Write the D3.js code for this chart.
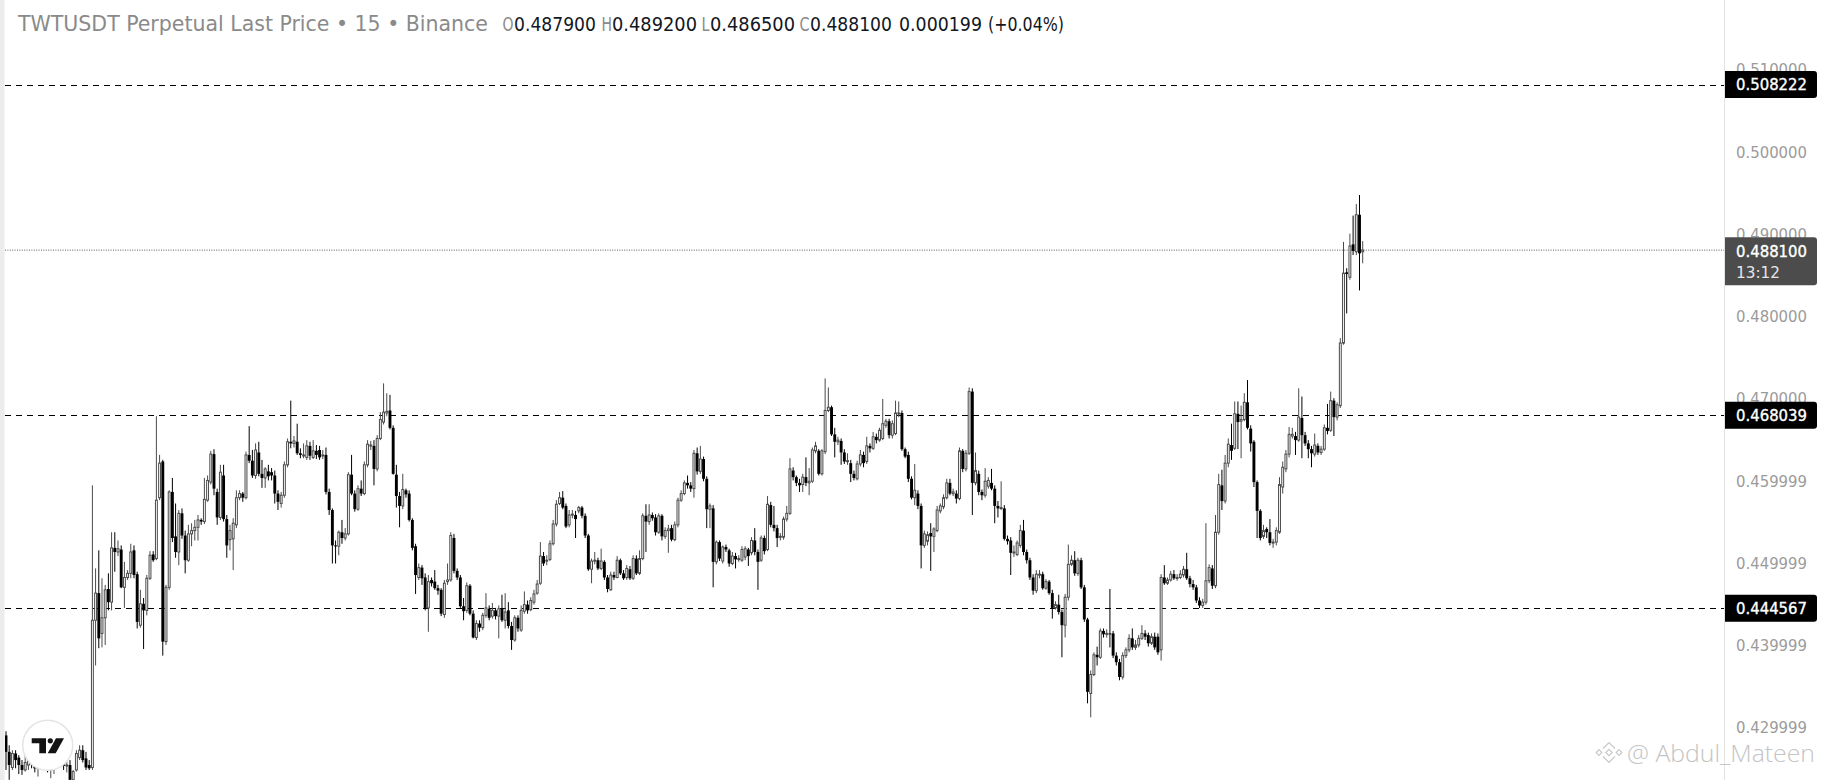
<!DOCTYPE html>
<html><head><meta charset="utf-8">
<script src="https://cdn.jsdelivr.net/npm/d3@7"></script>
<style>html,body{margin:0;padding:0;background:#fff;overflow:hidden}</style>
</head><body>
<script>
const opens = [0.4291,0.4271,0.4252,0.4269,0.4264,0.4255,0.4249,0.4255,0.4261,0.4256,
0.4251,0.4258,0.4263,0.4257,0.4249,0.4254,0.4261,0.4265,0.4260,0.4254,
0.4255,0.4237,0.4249,0.4264,0.4273,0.4263,0.4255,0.4252,0.4431,0.4464,
0.4415,0.4434,0.4469,0.4453,0.4519,0.4514,0.4517,0.4471,0.4483,0.4488,
0.4516,0.4487,0.4425,0.4451,0.4443,0.4482,0.4511,0.4506,0.4580,0.4624,
0.4405,0.4471,0.4587,0.4533,0.4514,0.4561,0.4534,0.4504,0.4536,0.4540,
0.4544,0.4553,0.4551,0.4577,0.4599,0.4633,0.4587,0.4556,0.4607,0.4554,
0.4529,0.4530,0.4547,0.4580,0.4585,0.4580,0.4632,0.4625,0.4607,0.4635,
0.4609,0.4604,0.4612,0.4611,0.4607,0.4585,0.4573,0.4583,0.4620,0.4648,
0.4646,0.4648,0.4634,0.4631,0.4629,0.4643,0.4629,0.4637,0.4638,0.4631,
0.4632,0.4587,0.4565,0.4522,0.4521,0.4538,0.4531,0.4536,0.4608,0.4585,
0.4566,0.4591,0.4585,0.4620,0.4643,0.4643,0.4615,0.4652,0.4672,0.4683,
0.4686,0.4665,0.4608,0.4582,0.4570,0.4589,0.4585,0.4553,0.4521,0.4483,
0.4495,0.4483,0.4446,0.4480,0.4478,0.4470,0.4468,0.4438,0.4478,0.4480,
0.4531,0.4491,0.4483,0.4448,0.4443,0.4473,0.4439,0.4410,0.4427,0.4422,
0.4437,0.4445,0.4436,0.4443,0.4436,0.4445,0.4431,0.4443,0.4424,0.4407,
0.4434,0.4419,0.4442,0.4450,0.4444,0.4453,0.4464,0.4476,0.4509,0.4503,
0.4505,0.4524,0.4548,0.4573,0.4580,0.4570,0.4547,0.4559,0.4559,0.4564,
0.4568,0.4558,0.4534,0.4493,0.4503,0.4504,0.4494,0.4502,0.4483,0.4468,
0.4486,0.4483,0.4504,0.4488,0.4483,0.4493,0.4482,0.4506,0.4488,0.4506,
0.4558,0.4551,0.4559,0.4556,0.4538,0.4558,0.4533,0.4540,0.4543,0.4529,
0.4547,0.4577,0.4585,0.4598,0.4595,0.4591,0.4634,0.4612,0.4627,0.4603,
0.4566,0.4567,0.4502,0.4526,0.4503,0.4520,0.4516,0.4500,0.4509,0.4505,
0.4504,0.4508,0.4517,0.4513,0.4528,0.4514,0.4504,0.4531,0.4517,0.4571,
0.4547,0.4543,0.4532,0.4532,0.4554,0.4561,0.4613,0.4605,0.4598,0.4596,
0.4605,0.4598,0.4600,0.4637,0.4637,0.4609,0.4636,0.4686,0.4690,0.4657,
0.4648,0.4649,0.4635,0.4624,0.4622,0.4609,0.4603,0.4621,0.4632,0.4624,
0.4643,0.4640,0.4654,0.4650,0.4652,0.4668,0.4673,0.4656,0.4658,0.4682,
0.4683,0.4639,0.4632,0.4603,0.4580,0.4585,0.4570,0.4522,0.4527,0.4537,
0.4533,0.4540,0.4564,0.4569,0.4580,0.4598,0.4585,0.4585,0.4579,0.4637,
0.4615,0.4634,0.4709,0.4598,0.4609,0.4587,0.4583,0.4594,0.4598,0.4591,
0.4570,0.4567,0.4567,0.4530,0.4528,0.4513,0.4511,0.4522,0.4540,0.4514,
0.4504,0.4483,0.4467,0.4486,0.4487,0.4470,0.4478,0.4464,0.4446,0.4450,
0.4441,0.4425,0.4459,0.4499,0.4504,0.4488,0.4504,0.4471,0.4432,0.4342,
0.4365,0.4389,0.4386,0.4418,0.4414,0.4415,0.4415,0.4388,0.4380,0.4362,
0.4388,0.4395,0.4409,0.4398,0.4401,0.4409,0.4415,0.4413,0.4403,0.4411,
0.4411,0.4395,0.4483,0.4476,0.4480,0.4487,0.4482,0.4483,0.4486,0.4493,
0.4482,0.4475,0.4471,0.4455,0.4449,0.4453,0.4479,0.4494,0.4473,0.4538,
0.4595,0.4576,0.4622,0.4644,0.4640,0.4682,0.4673,0.4675,0.4696,0.4664,
0.4648,0.4599,0.4564,0.4533,0.4542,0.4538,0.4525,0.4526,0.4538,0.4593,
0.4615,0.4633,0.4655,0.4655,0.4650,0.4677,0.4656,0.4646,0.4639,0.4633,
0.4643,0.4635,0.4639,0.4665,0.4662,0.4698,0.4678,0.4692,0.4768,0.4854,
0.4848,0.4888,0.4879,0.4924,0.4879];
const highs = [0.4296,0.4279,0.4273,0.4273,0.4267,0.4261,0.4267,0.4264,0.4271,0.4263,
0.4261,0.4268,0.4271,0.4266,0.4258,0.4264,0.4271,0.4273,0.4267,0.4264,
0.4261,0.4249,0.4273,0.4279,0.4279,0.4271,0.4261,0.4595,0.4494,0.4516,
0.4482,0.4474,0.4488,0.4538,0.4538,0.4528,0.4522,0.4502,0.4492,0.4524,
0.4522,0.4490,0.4468,0.4458,0.4486,0.4515,0.4515,0.4679,0.4632,0.4626,
0.4474,0.4589,0.4604,0.4573,0.4565,0.4567,0.4540,0.4547,0.4549,0.4553,
0.4559,0.4555,0.4604,0.4607,0.4637,0.4639,0.4591,0.4620,0.4620,0.4559,
0.4547,0.4555,0.4589,0.4589,0.4587,0.4636,0.4667,0.4638,0.4646,0.4648,
0.4626,0.4617,0.4620,0.4616,0.4613,0.4589,0.4587,0.4624,0.4652,0.4698,
0.4655,0.4670,0.4640,0.4646,0.4650,0.4648,0.4650,0.4644,0.4643,0.4638,
0.4641,0.4591,0.4567,0.4528,0.4540,0.4553,0.4543,0.4611,0.4632,0.4589,
0.4595,0.4601,0.4624,0.4650,0.4649,0.4650,0.4656,0.4684,0.4719,0.4707,
0.4705,0.4668,0.4620,0.4587,0.4609,0.4591,0.4589,0.4555,0.4524,0.4500,
0.4498,0.4488,0.4486,0.4483,0.4492,0.4474,0.4470,0.4480,0.4500,0.4538,
0.4536,0.4494,0.4486,0.4458,0.4477,0.4475,0.4443,0.4431,0.4431,0.4440,
0.4464,0.4449,0.4452,0.4446,0.4449,0.4462,0.4464,0.4453,0.4429,0.4437,
0.4437,0.4449,0.4466,0.4455,0.4459,0.4468,0.4480,0.4526,0.4514,0.4510,
0.4528,0.4553,0.4577,0.4587,0.4588,0.4573,0.4565,0.4565,0.4564,0.4570,
0.4570,0.4561,0.4536,0.4506,0.4514,0.4507,0.4518,0.4504,0.4486,0.4490,
0.4490,0.4509,0.4506,0.4492,0.4498,0.4497,0.4510,0.4510,0.4516,0.4561,
0.4572,0.4572,0.4562,0.4560,0.4561,0.4560,0.4544,0.4547,0.4547,0.4551,
0.4580,0.4589,0.4601,0.4607,0.4599,0.4638,0.4641,0.4643,0.4630,0.4606,
0.4573,0.4571,0.4528,0.4528,0.4522,0.4523,0.4518,0.4514,0.4513,0.4510,
0.4521,0.4521,0.4519,0.4532,0.4543,0.4517,0.4534,0.4534,0.4582,0.4575,
0.4570,0.4547,0.4537,0.4557,0.4570,0.4628,0.4617,0.4607,0.4603,0.4609,
0.4629,0.4616,0.4641,0.4648,0.4639,0.4639,0.4725,0.4714,0.4692,0.4665,
0.4654,0.4652,0.4639,0.4634,0.4626,0.4613,0.4625,0.4638,0.4636,0.4654,
0.4646,0.4660,0.4658,0.4665,0.4700,0.4676,0.4676,0.4674,0.4698,0.4697,
0.4686,0.4641,0.4636,0.4606,0.4621,0.4589,0.4573,0.4540,0.4539,0.4549,
0.4544,0.4570,0.4573,0.4584,0.4603,0.4603,0.4591,0.4589,0.4641,0.4639,
0.4638,0.4714,0.4713,0.4635,0.4613,0.4590,0.4616,0.4605,0.4615,0.4595,
0.4576,0.4600,0.4571,0.4534,0.4532,0.4522,0.4528,0.4547,0.4553,0.4517,
0.4507,0.4487,0.4492,0.4492,0.4490,0.4481,0.4480,0.4468,0.4454,0.4462,
0.4444,0.4463,0.4523,0.4510,0.4515,0.4507,0.4507,0.4474,0.4434,0.4370,
0.4392,0.4399,0.4421,0.4421,0.4420,0.4469,0.4418,0.4392,0.4384,0.4392,
0.4398,0.4414,0.4421,0.4407,0.4413,0.4425,0.4419,0.4416,0.4415,0.4416,
0.4415,0.4487,0.4498,0.4483,0.4491,0.4492,0.4487,0.4492,0.4497,0.4513,
0.4485,0.4480,0.4474,0.4459,0.4457,0.4549,0.4499,0.4498,0.4559,0.4609,
0.4614,0.4632,0.4652,0.4670,0.4697,0.4697,0.4692,0.4707,0.4723,0.4668,
0.4650,0.4601,0.4566,0.4547,0.4544,0.4554,0.4530,0.4544,0.4605,0.4624,
0.4638,0.4666,0.4665,0.4660,0.4713,0.4703,0.4660,0.4650,0.4643,0.4658,
0.4646,0.4643,0.4669,0.4694,0.4709,0.4701,0.4696,0.4774,0.4891,0.4859,
0.4901,0.4923,0.4937,0.4948,0.4892];
const lows = [0.4249,0.4237,0.4249,0.4251,0.4244,0.4243,0.4247,0.4249,0.4251,0.4246,
0.4241,0.4249,0.4254,0.4246,0.4239,0.4244,0.4251,0.4256,0.4249,0.4246,
0.4231,0.4231,0.4247,0.4261,0.4258,0.4249,0.4249,0.4249,0.4376,0.4397,
0.4398,0.4401,0.4443,0.4443,0.4490,0.4509,0.4470,0.4446,0.4480,0.4482,
0.4482,0.4421,0.4422,0.4396,0.4437,0.4480,0.4502,0.4504,0.4577,0.4388,
0.4401,0.4468,0.4526,0.4507,0.4498,0.4530,0.4488,0.4502,0.4521,0.4528,
0.4528,0.4547,0.4548,0.4575,0.4596,0.4583,0.4547,0.4553,0.4551,0.4507,
0.4516,0.4492,0.4543,0.4577,0.4575,0.4578,0.4622,0.4604,0.4603,0.4606,
0.4592,0.4592,0.4601,0.4601,0.4573,0.4565,0.4568,0.4580,0.4617,0.4640,
0.4641,0.4632,0.4628,0.4628,0.4626,0.4626,0.4627,0.4627,0.4626,0.4627,
0.4584,0.4559,0.4500,0.4500,0.4510,0.4524,0.4528,0.4534,0.4583,0.4563,
0.4564,0.4582,0.4583,0.4617,0.4638,0.4595,0.4612,0.4650,0.4669,0.4679,
0.4663,0.4608,0.4568,0.4544,0.4566,0.4580,0.4551,0.4516,0.4463,0.4480,
0.4474,0.4443,0.4417,0.4472,0.4468,0.4462,0.4436,0.4434,0.4474,0.4478,
0.4488,0.4480,0.4446,0.4431,0.4440,0.4437,0.4409,0.4407,0.4417,0.4419,
0.4434,0.4431,0.4433,0.4432,0.4409,0.4429,0.4421,0.4421,0.4395,0.4405,
0.4417,0.4417,0.4439,0.4439,0.4442,0.4450,0.4462,0.4474,0.4497,0.4498,
0.4503,0.4522,0.4545,0.4571,0.4566,0.4543,0.4544,0.4555,0.4531,0.4561,
0.4555,0.4531,0.4491,0.4476,0.4499,0.4492,0.4492,0.4480,0.4465,0.4467,
0.4480,0.4482,0.4486,0.4480,0.4480,0.4480,0.4480,0.4486,0.4486,0.4504,
0.4514,0.4547,0.4552,0.4534,0.4536,0.4528,0.4530,0.4513,0.4527,0.4527,
0.4544,0.4575,0.4583,0.4591,0.4587,0.4580,0.4608,0.4609,0.4600,0.4543,
0.4543,0.4471,0.4499,0.4503,0.4500,0.4514,0.4496,0.4498,0.4494,0.4502,
0.4502,0.4504,0.4497,0.4510,0.4510,0.4468,0.4502,0.4511,0.4515,0.4544,
0.4539,0.4520,0.4528,0.4529,0.4551,0.4559,0.4601,0.4594,0.4587,0.4587,
0.4594,0.4583,0.4598,0.4634,0.4607,0.4607,0.4633,0.4684,0.4655,0.4629,
0.4644,0.4620,0.4621,0.4620,0.4599,0.4601,0.4601,0.4618,0.4617,0.4621,
0.4635,0.4638,0.4646,0.4648,0.4650,0.4665,0.4652,0.4652,0.4656,0.4678,
0.4637,0.4628,0.4599,0.4578,0.4571,0.4566,0.4494,0.4519,0.4522,0.4491,
0.4514,0.4538,0.4561,0.4566,0.4578,0.4583,0.4582,0.4573,0.4577,0.4611,
0.4612,0.4632,0.4559,0.4595,0.4583,0.4577,0.4580,0.4591,0.4589,0.4549,
0.4556,0.4565,0.4528,0.4523,0.4486,0.4508,0.4509,0.4519,0.4510,0.4500,
0.4480,0.4462,0.4464,0.4482,0.4468,0.4468,0.4462,0.4433,0.4444,0.4438,
0.4386,0.4410,0.4455,0.4497,0.4485,0.4485,0.4469,0.4429,0.4330,0.4313,
0.4363,0.4376,0.4384,0.4410,0.4410,0.4398,0.4385,0.4376,0.4358,0.4359,
0.4385,0.4392,0.4395,0.4395,0.4398,0.4407,0.4407,0.4399,0.4401,0.4395,
0.4389,0.4382,0.4474,0.4474,0.4478,0.4480,0.4479,0.4481,0.4483,0.4480,
0.4471,0.4468,0.4452,0.4446,0.4446,0.4450,0.4476,0.4469,0.4470,0.4535,
0.4565,0.4573,0.4617,0.4626,0.4638,0.4639,0.4628,0.4673,0.4663,0.4636,
0.4593,0.4531,0.4528,0.4530,0.4531,0.4522,0.4519,0.4522,0.4536,0.4585,
0.4611,0.4629,0.4652,0.4632,0.4648,0.4628,0.4643,0.4628,0.4617,0.4630,
0.4632,0.4632,0.4637,0.4657,0.4660,0.4655,0.4674,0.4689,0.4766,0.4804,
0.4845,0.4875,0.4875,0.4832,0.4865];
const closes = [0.4271,0.4255,0.4269,0.4261,0.4255,0.4249,0.4258,0.4261,0.4256,0.4251,
0.4258,0.4263,0.4257,0.4249,0.4254,0.4261,0.4265,0.4260,0.4254,0.4255,
0.4237,0.4247,0.4269,0.4273,0.4261,0.4252,0.4251,0.4431,0.4464,0.4409,
0.4434,0.4468,0.4453,0.4519,0.4514,0.4518,0.4471,0.4483,0.4488,0.4514,
0.4486,0.4429,0.4451,0.4443,0.4482,0.4510,0.4504,0.4577,0.4622,0.4405,
0.4471,0.4587,0.4531,0.4514,0.4561,0.4534,0.4504,0.4536,0.4540,0.4544,
0.4553,0.4551,0.4578,0.4601,0.4633,0.4591,0.4556,0.4611,0.4554,0.4522,
0.4540,0.4549,0.4580,0.4585,0.4580,0.4632,0.4625,0.4607,0.4638,0.4609,
0.4604,0.4615,0.4606,0.4607,0.4585,0.4575,0.4583,0.4620,0.4648,0.4646,
0.4649,0.4634,0.4632,0.4632,0.4643,0.4631,0.4637,0.4632,0.4629,0.4632,
0.4587,0.4565,0.4522,0.4521,0.4538,0.4531,0.4536,0.4608,0.4585,0.4566,
0.4591,0.4585,0.4620,0.4645,0.4644,0.4615,0.4652,0.4675,0.4684,0.4685,
0.4665,0.4609,0.4582,0.4570,0.4590,0.4584,0.4553,0.4519,0.4486,0.4495,
0.4482,0.4446,0.4478,0.4476,0.4470,0.4467,0.4439,0.4476,0.4480,0.4534,
0.4491,0.4483,0.4448,0.4442,0.4473,0.4439,0.4410,0.4427,0.4422,0.4437,
0.4446,0.4434,0.4443,0.4436,0.4445,0.4431,0.4441,0.4424,0.4407,0.4434,
0.4421,0.4443,0.4450,0.4443,0.4455,0.4463,0.4475,0.4509,0.4500,0.4504,
0.4524,0.4548,0.4572,0.4580,0.4568,0.4545,0.4559,0.4560,0.4554,0.4568,
0.4558,0.4534,0.4493,0.4503,0.4504,0.4494,0.4503,0.4483,0.4469,0.4486,
0.4483,0.4504,0.4488,0.4482,0.4494,0.4482,0.4506,0.4488,0.4506,0.4558,
0.4551,0.4559,0.4555,0.4538,0.4558,0.4533,0.4540,0.4542,0.4529,0.4547,
0.4577,0.4585,0.4598,0.4595,0.4591,0.4634,0.4612,0.4627,0.4603,0.4566,
0.4570,0.4502,0.4526,0.4506,0.4520,0.4517,0.4500,0.4509,0.4505,0.4506,
0.4517,0.4518,0.4509,0.4528,0.4514,0.4502,0.4531,0.4515,0.4572,0.4547,
0.4543,0.4531,0.4533,0.4554,0.4561,0.4615,0.4605,0.4598,0.4595,0.4605,
0.4598,0.4600,0.4638,0.4643,0.4609,0.4637,0.4686,0.4690,0.4657,0.4648,
0.4650,0.4635,0.4624,0.4625,0.4609,0.4604,0.4621,0.4632,0.4622,0.4643,
0.4640,0.4654,0.4650,0.4662,0.4670,0.4673,0.4656,0.4670,0.4683,0.4683,
0.4639,0.4630,0.4603,0.4580,0.4589,0.4570,0.4522,0.4536,0.4535,0.4533,
0.4542,0.4565,0.4570,0.4580,0.4598,0.4585,0.4587,0.4579,0.4637,0.4615,
0.4634,0.4709,0.4598,0.4613,0.4587,0.4583,0.4600,0.4601,0.4591,0.4570,
0.4567,0.4568,0.4530,0.4527,0.4513,0.4514,0.4525,0.4540,0.4514,0.4504,
0.4483,0.4467,0.4487,0.4487,0.4470,0.4478,0.4464,0.4446,0.4450,0.4441,
0.4425,0.4459,0.4499,0.4504,0.4488,0.4504,0.4471,0.4432,0.4344,0.4365,
0.4389,0.4386,0.4418,0.4414,0.4415,0.4414,0.4388,0.4380,0.4362,0.4388,
0.4395,0.4409,0.4398,0.4401,0.4409,0.4415,0.4411,0.4403,0.4411,0.4398,
0.4392,0.4483,0.4476,0.4480,0.4487,0.4482,0.4483,0.4487,0.4493,0.4482,
0.4475,0.4471,0.4455,0.4449,0.4453,0.4479,0.4495,0.4473,0.4538,0.4596,
0.4576,0.4622,0.4645,0.4637,0.4682,0.4672,0.4675,0.4696,0.4665,0.4646,
0.4599,0.4564,0.4531,0.4540,0.4538,0.4525,0.4526,0.4540,0.4596,0.4617,
0.4633,0.4657,0.4657,0.4650,0.4678,0.4656,0.4646,0.4639,0.4634,0.4644,
0.4635,0.4639,0.4665,0.4661,0.4698,0.4678,0.4693,0.4768,0.4853,0.4852,
0.4886,0.4880,0.4924,0.4877,0.4881];

const tickValues = [0.51, 0.50, 0.49, 0.48, 0.47, 0.46, 0.45, 0.44, 0.43];
const tickLabels = ["0.510000","0.500000","0.490000","0.480000","0.470000","0.459999","0.449999","0.439999","0.429999"];
const levelValues = [0.508222, 0.468039, 0.444567];
const levelLabels = ["0.508222", "0.468039", "0.444567"];
const lastPrice = 0.4881;
const lastPriceLabel = "0.488100";
const countdownLabel = "13:12";
const titleText = "TWTUSDT Perpetual Last Price \u2022 15 \u2022 Binance";
const headerKeys = ["O", "H", "L", "C"];
const headerValues = ["0.487900", "0.489200", "0.486500", "0.488100"];
const headerChange = ["0.000199", "(+0.04%)"];
const watermarkText = "@ Abdul_Mateen";

const W = 1823, H = 780;
const plotLeft = 5, plotRight = 1724.5;
const svg = d3.select("body").append("svg").attr("width", W).attr("height", H)
  .style("display", "block").style("background", "#fff");

const y = d3.scaleLinear().domain([0.51, 0.43]).range([70, 728]);
const n = closes.length;
const x = d3.scaleLinear().domain([0, n - 1]).range([6, 1362.7]);

svg.append("defs").append("clipPath").attr("id", "plotclip")
  .append("rect").attr("x", plotLeft).attr("y", 0).attr("width", plotRight - plotLeft).attr("height", H);

const plot = svg.append("g").attr("clip-path", "url(#plotclip)");

// current price dotted line
plot.append("line").attr("x1", plotLeft).attr("x2", plotRight)
  .attr("y1", y(lastPrice)).attr("y2", y(lastPrice))
  .attr("stroke", "#5a5a5a").attr("stroke-width", 1).attr("stroke-dasharray", "1,1.4");

// level dashed lines
plot.selectAll("line.level").data(levelValues).enter().append("line").attr("class", "level")
  .attr("x1", plotLeft).attr("x2", plotRight)
  .attr("y1", d => Math.round(y(d)) + 0.5).attr("y2", d => Math.round(y(d)) + 0.5)
  .attr("stroke", "#000").attr("stroke-width", 1.1).attr("stroke-dasharray", "6,5");

// candles
const data = closes.map((c, i) => ({i, o: opens[i], h: highs[i], l: lows[i], c}));
const upCol = "#4a4a4a", dnCol = "#000";
const cg = plot.append("g");
cg.selectAll("line.wick").data(data).enter().append("line").attr("class", "wick")
  .attr("x1", d => x(d.i)).attr("x2", d => x(d.i))
  .attr("y1", d => y(d.h)).attr("y2", d => y(d.l))
  .attr("stroke", d => d.c >= d.o ? upCol : dnCol).attr("stroke-width", 1);
cg.selectAll("rect.body").data(data).enter().append("rect").attr("class", "body")
  .each(function(d) {
    const up = d.c >= d.o;
    const top = y(Math.max(d.o, d.c)), bot = y(Math.min(d.o, d.c));
    const hgt = Math.max(1, bot - top);
    const sel = d3.select(this);
    if (up) {
      sel.attr("x", x(d.i) - 0.95).attr("width", 1.9).attr("y", top).attr("height", Math.max(0.6, hgt))
        .attr("fill", "#fff").attr("stroke", upCol).attr("stroke-width", 1);
    } else {
      sel.attr("x", x(d.i) - 1.45).attr("width", 2.9).attr("y", top).attr("height", hgt)
        .attr("fill", dnCol);
    }
  });

// left strip
svg.append("rect").attr("x", 0).attr("y", 0).attr("width", 4.5).attr("height", H).attr("fill", "#ececec");

// axis separator
svg.append("line").attr("x1", 1724.5).attr("x2", 1724.5).attr("y1", 0).attr("y2", H)
  .attr("stroke", "#e3e3e3").attr("stroke-width", 1);

// y axis ticks via d3 axis
const axisG = svg.append("g").attr("transform", "translate(1724.5,0)")
  .call(d3.axisRight(y).tickValues(tickValues).tickSize(0).tickPadding(11.5)
    .tickFormat((d, i) => tickLabels[i]));
axisG.select(".domain").remove();
axisG.selectAll("text").attr("font-family", "DejaVu Sans").attr("font-size", 15)
  .attr("fill", "#9b9b9b").attr("textLength", 71).attr("lengthAdjust", "spacingAndGlyphs");

// label boxes
function boxPath(x0, y0, w, h, r) {
  return `M${x0},${y0}H${x0 + w - r}Q${x0 + w},${y0} ${x0 + w},${y0 + r}V${y0 + h - r}Q${x0 + w},${y0 + h} ${x0 + w - r},${y0 + h}H${x0}Z`;
}
const lg = svg.append("g");
levelValues.forEach((v, i) => {
  const cy = y(v);
  lg.append("path").attr("d", boxPath(1725, cy - 13.5, 92, 27, 3)).attr("fill", "#000");
  lg.append("text").attr("x", 1736).attr("y", cy).attr("dy", "0.36em")
    .attr("font-family", "DejaVu Sans").attr("font-size", 15).attr("fill", "#fff")
    .attr("stroke", "#fff").attr("stroke-width", 0.35)
    .attr("textLength", 71).attr("lengthAdjust", "spacingAndGlyphs").text(levelLabels[i]);
});
{
  const cy = y(lastPrice);
  lg.append("path").attr("d", boxPath(1725, cy - 13, 92, 48, 3)).attr("fill", "#4c4c4c");
  lg.append("text").attr("x", 1736).attr("y", cy + 1).attr("dy", "0.36em")
    .attr("font-family", "DejaVu Sans").attr("font-size", 15).attr("fill", "#fff")
    .attr("stroke", "#fff").attr("stroke-width", 0.35)
    .attr("textLength", 71).attr("lengthAdjust", "spacingAndGlyphs").text(lastPriceLabel);
  lg.append("text").attr("x", 1736).attr("y", cy + 22).attr("dy", "0.36em")
    .attr("font-family", "DejaVu Sans").attr("font-size", 15).attr("fill", "#e6e6e6")
    .attr("textLength", 44).attr("lengthAdjust", "spacingAndGlyphs").text(countdownLabel);
}

// header
const hg = svg.append("g").attr("font-family", "DejaVu Sans Condensed");
hg.append("text").attr("x", 18).attr("y", 31).attr("font-size", 21).attr("fill", "#8a8a8a")
  .attr("textLength", 470).attr("lengthAdjust", "spacingAndGlyphs").text(titleText);
const keyX = [502.5, 601.5, 701.5, 799.5];
const keyW = [11, 10.5, 8, 10];
const valX = [514, 612, 710, 810];
const valW = [82, 85, 85, 82];
headerKeys.forEach((k, i) => {
  hg.append("text").attr("x", keyX[i]).attr("y", 31).attr("font-size", 19).attr("fill", "#8a8a8a")
    .attr("textLength", keyW[i]).attr("lengthAdjust", "spacingAndGlyphs").text(k);
  hg.append("text").attr("x", valX[i]).attr("y", 31).attr("font-size", 19).attr("fill", "#131722")
    .attr("textLength", valW[i]).attr("lengthAdjust", "spacingAndGlyphs").text(headerValues[i]);
});
hg.append("text").attr("x", 899).attr("y", 31).attr("font-size", 19).attr("fill", "#131722")
  .attr("textLength", 83).attr("lengthAdjust", "spacingAndGlyphs").text(headerChange[0]);
hg.append("text").attr("x", 988).attr("y", 31).attr("font-size", 19).attr("fill", "#131722")
  .attr("textLength", 76).attr("lengthAdjust", "spacingAndGlyphs").text(headerChange[1]);

// TradingView logo
const tv = svg.append("g");
tv.append("circle").attr("cx", 47.7).attr("cy", 745.3).attr("r", 25).attr("fill", "#fff")
  .attr("stroke", "#e4e4e4").attr("stroke-width", 1.5);
tv.append("path").attr("d", "M31.7,738.3H46V753.3H39.3V743.3H31.7Z").attr("fill", "#131313");
tv.append("circle").attr("cx", 50.3).attr("cy", 740.8).attr("r", 2.6).attr("fill", "#131313");
tv.append("path").attr("d", "M56,738.3H64L55.7,753.3H47.7Z").attr("fill", "#131313");

// watermark
const wm = svg.append("g").attr("fill", "none").attr("stroke", "#c9c9c9").attr("stroke-width", 1.2);
const ic = [1609, 752.5];
const dia = (cx, cy, r) => `M${cx},${cy - r}L${cx + r},${cy}L${cx},${cy + r}L${cx - r},${cy}Z`;
wm.append("path").attr("d", dia(ic[0], ic[1], 3.2));
wm.append("path").attr("d", dia(ic[0] - 10, ic[1], 2.8));
wm.append("path").attr("d", dia(ic[0] + 10, ic[1], 2.8));
wm.append("path").attr("d", `M${ic[0] - 6},${ic[1] - 4}L${ic[0]},${ic[1] - 10}L${ic[0] + 6},${ic[1] - 4}`);
wm.append("path").attr("d", `M${ic[0] - 6},${ic[1] + 4}L${ic[0]},${ic[1] + 10}L${ic[0] + 6},${ic[1] + 4}`);
svg.append("text").attr("x", 1627).attr("y", 762).attr("font-family", "Open Sans").attr("font-weight", 300)
  .attr("font-size", 23).attr("fill", "#c4c4c4")
  .attr("textLength", 188).attr("lengthAdjust", "spacingAndGlyphs").text(watermarkText);
</script>
</body></html>
